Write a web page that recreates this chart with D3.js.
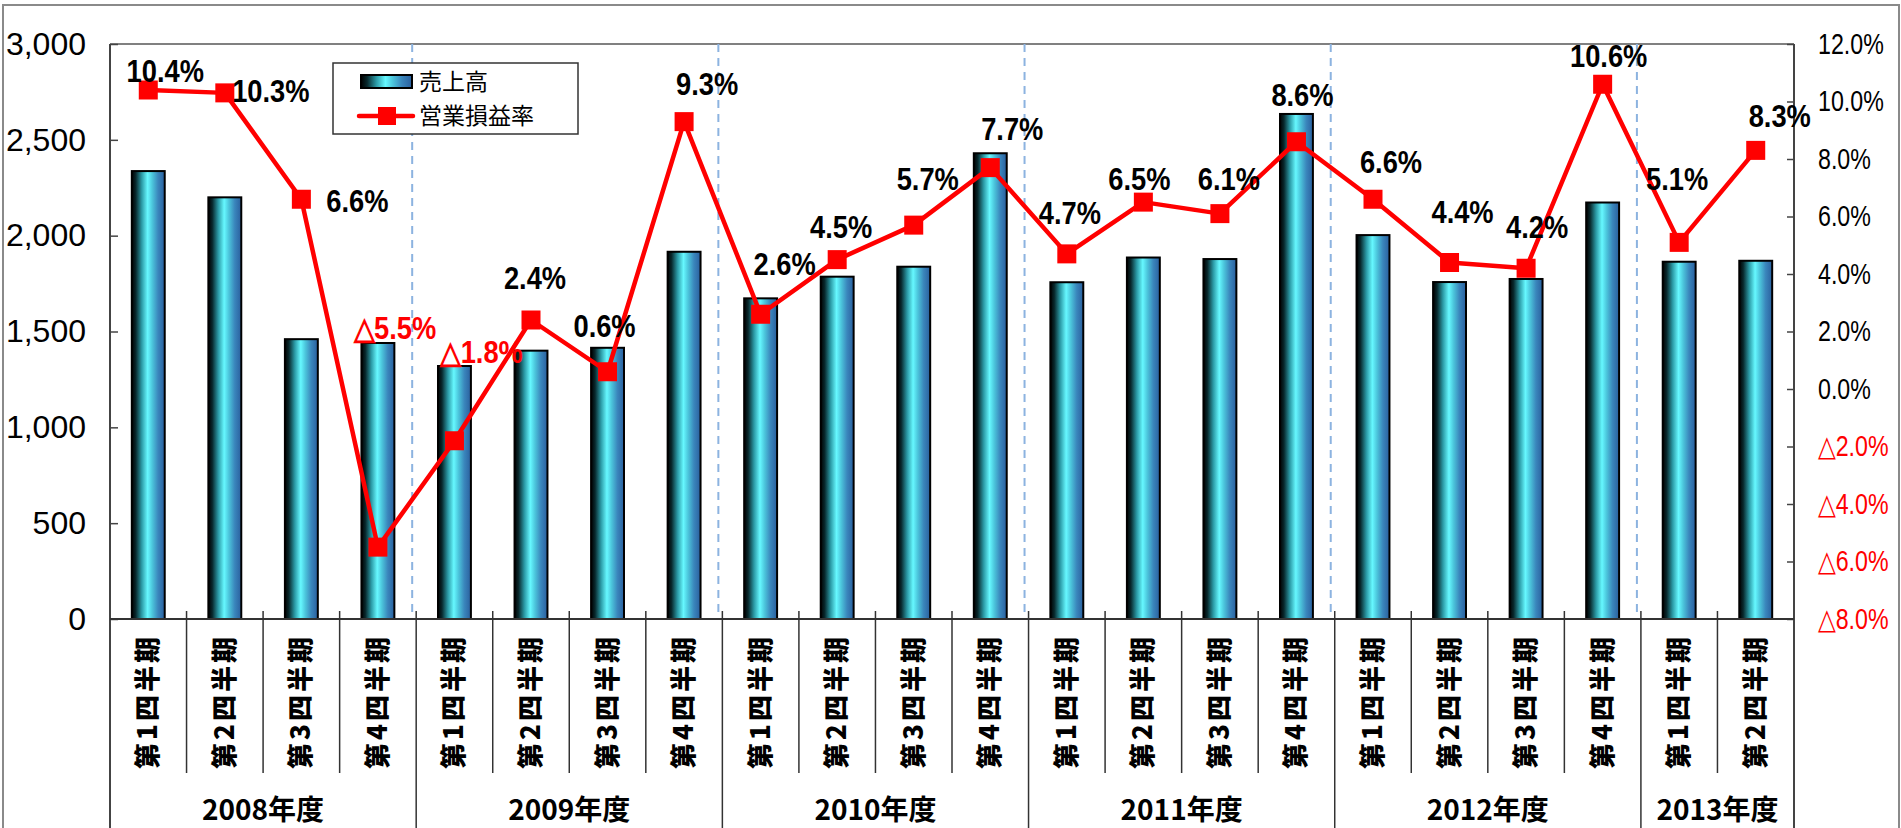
<!DOCTYPE html>
<html>
<head>
<meta charset="utf-8">
<script src="https://cdn.jsdelivr.net/npm/d3@7"></script>
<style>
  body { margin: 0; background: #fff; }
  svg { display: block; }
</style>
</head>
<body>
<svg width="1901" height="828"></svg>
<script>
// data
const quarters = ["第1四半期", "第2四半期", "第3四半期", "第4四半期",
  "第1四半期", "第2四半期", "第3四半期", "第4四半期",
  "第1四半期", "第2四半期", "第3四半期", "第4四半期",
  "第1四半期", "第2四半期", "第3四半期", "第4四半期",
  "第1四半期", "第2四半期", "第3四半期", "第4四半期",
  "第1四半期", "第2四半期"];
const years = ["2008年度", "2009年度", "2010年度", "2011年度", "2012年度", "2013年度"];
const yearSize = [4, 4, 4, 4, 4, 2];
const sales = [2337, 2200, 1460, 1440, 1320, 1400, 1415, 1916, 1673, 1786, 1838, 2430,
  1757, 1886, 1878, 2635, 2003, 1758, 1774, 2173, 1864, 1869];
const margin = [10.4, 10.3, 6.6, -5.5, -1.8, 2.4, 0.6, 9.3, 2.6, 4.5, 5.7, 7.7,
  4.7, 6.5, 6.1, 8.6, 6.6, 4.4, 4.2, 10.6, 5.1, 8.3];
const salesTicks = [0, 500, 1000, 1500, 2000, 2500, 3000];
const marginTicks = [-8, -6, -4, -2, 0, 2, 4, 6, 8, 10, 12];

// where each % label sits relative to its marker (dx, dy of baseline)
const labelShift = [[17, -8], [46, 9], [56, 13], [17, -208], [27, -78], [4, -31], [-3, -35], [23, -27],
  [24, -39], [4, -22], [14, -35], [22, -28], [3, -30], [-4, -12], [9, -24], [6, -36],
  [18, -26], [13, -40], [11, -30], [6, -17], [-2, -52], [24, -23]];

const svg = d3.select("svg");
const numFont = "'Liberation Sans', Arial, sans-serif";
const jpFont = "'Noto Sans CJK JP', sans-serif";

const plotL = 110, plotR = 1794, plotT = 44, plotB = 619;

const x = d3.scaleBand()
  .domain(d3.range(sales.length))
  .range([plotL, plotR])
  .paddingInner(0.57)
  .paddingOuter(0.285);
const step = x.step();
const cx = (i) => x(i) + x.bandwidth() / 2;
const edge = (i) => plotL + i * step;

const yL = d3.scaleLinear().domain([0, 3000]).range([plotB, plotT]);
const yR = d3.scaleLinear().domain([-8, 12]).range([plotB, plotT]);

// bar gradient
const defs = svg.append("defs");
const grad = defs.append("linearGradient").attr("id", "barGrad")
  .attr("x1", "0%").attr("x2", "100%").attr("y1", "0%").attr("y2", "0%");
[[0, "#000000"], [0.12, "#08282c"], [0.3, "#2b9aa6"], [0.48, "#66f8ff"],
 [0.62, "#4cc6dc"], [0.8, "#3a86bc"], [1, "#2a5f9e"]].forEach(([o, c]) =>
  grad.append("stop").attr("offset", o).attr("stop-color", c));

// outer frame
svg.append("rect").attr("x", 3).attr("y", 5).attr("width", 1896).attr("height", 830)
  .attr("fill", "none").attr("stroke", "#8a8a8a").attr("stroke-width", 2);

// plot top border
svg.append("line").attr("x1", plotL).attr("x2", plotR).attr("y1", plotT).attr("y2", plotT)
  .attr("stroke", "#808080").attr("stroke-width", 2);

// year dashed separators
let acc = 0;
const yearStart = yearSize.map((n) => { const s = acc; acc += n; return s; });
svg.append("g").selectAll("line")
  .data(yearStart.slice(1))
  .join("line")
  .attr("x1", (d) => edge(d) - 4).attr("x2", (d) => edge(d) - 4)
  .attr("y1", plotT).attr("y2", plotB)
  .attr("stroke", "#8cb3e0").attr("stroke-width", 2)
  .attr("stroke-dasharray", "8,6");

// bars
svg.append("g").selectAll("rect")
  .data(sales)
  .join("rect")
  .attr("x", (d, i) => x(i))
  .attr("y", (d) => yL(d))
  .attr("width", x.bandwidth())
  .attr("height", (d) => yL(0) - yL(d))
  .attr("fill", "url(#barGrad)")
  .attr("stroke", "#000")
  .attr("stroke-width", 2);

// left axis
const axL = svg.append("g").attr("transform", `translate(${plotL},0)`)
  .call(d3.axisLeft(yL).tickValues(salesTicks).tickFormat(d3.format(",")).tickSizeInner(-8).tickSizeOuter(0).tickPadding(24));
axL.select(".domain").attr("stroke", "#444").attr("stroke-width", 2)
  .attr("d", `M0,${plotT}V828`);
axL.selectAll(".tick line").attr("stroke", "#444").attr("stroke-width", 1.5);
axL.selectAll(".tick text").attr("font-family", numFont).attr("font-size", 32).attr("fill", "#000");

// right axis (labels squeezed a little, the original font is narrow)
const pct = (d) => (d < 0 ? "△" + Math.abs(d).toFixed(1) : d.toFixed(1)) + "%";
const squeeze = 0.8;
const axR = svg.append("g").attr("transform", `translate(${plotR},0)`)
  .call(d3.axisRight(yR).tickValues(marginTicks).tickFormat(pct).tickSizeInner(-7).tickSizeOuter(0).tickPadding(24));
axR.select(".domain").attr("stroke", "#444").attr("stroke-width", 2)
  .attr("d", `M0,${plotT}V828`);
axR.selectAll(".tick line").attr("stroke", "#444").attr("stroke-width", 1.5);
axR.selectAll(".tick text")
  .attr("x", 24 / squeeze)
  .attr("transform", `scale(${squeeze},1)`)
  .attr("font-family", numFont)
  .attr("font-size", 29).attr("fill", (d) => (d < 0 ? "#ff0000" : "#000"));

// bottom axis line and category grid
svg.append("line").attr("x1", plotL).attr("x2", plotR).attr("y1", plotB).attr("y2", plotB)
  .attr("stroke", "#333").attr("stroke-width", 2);
const isYearEdge = (i) => yearStart.includes(i);
svg.append("g").selectAll("line")
  .data(d3.range(1, sales.length))
  .join("line")
  .attr("x1", (i) => edge(i)).attr("x2", (i) => edge(i))
  .attr("y1", plotB - 8)
  .attr("y2", (i) => (isYearEdge(i) ? 828 : 773))
  .attr("stroke", "#333").attr("stroke-width", 1.5);

// quarter labels (rotated)
svg.append("g").selectAll("text")
  .data(quarters)
  .join("text")
  .attr("transform", (d, i) => `translate(${cx(i) + 9},703) rotate(-90)`)
  .attr("text-anchor", "middle")
  .attr("font-family", jpFont)
  .attr("font-weight", 900)
  .attr("font-size", 26)
  .attr("textLength", 132)
  .attr("lengthAdjust", "spacing")
  .text((d) => d);

// year labels
svg.append("g").selectAll("text")
  .data(years)
  .join("text")
  .attr("x", (d, i) => (edge(yearStart[i]) + edge(yearStart[i] + yearSize[i])) / 2)
  .attr("y", 820)
  .attr("text-anchor", "middle")
  .attr("font-family", jpFont)
  .attr("font-weight", 700)
  .attr("font-size", 28)
  .text((d) => d);

// margin line
const line = d3.line().x((d, i) => cx(i)).y((d) => yR(d));
svg.append("path").datum(margin)
  .attr("d", line)
  .attr("fill", "none")
  .attr("stroke", "#ff0000")
  .attr("stroke-width", 4.5)
  .attr("stroke-linejoin", "round");

const mk = 19;
svg.append("g").selectAll("rect")
  .data(margin)
  .join("rect")
  .attr("x", (d, i) => cx(i) - mk / 2)
  .attr("y", (d) => yR(d) - mk / 2)
  .attr("width", mk).attr("height", mk)
  .attr("fill", "#ff0000");

svg.append("g").selectAll("text")
  .data(margin)
  .join("text")
  .attr("transform", (d, i) =>
    `translate(${cx(i) + labelShift[i][0]},${yR(d) + labelShift[i][1]}) scale(0.88,1)`)
  .attr("text-anchor", "middle")
  .attr("font-family", numFont)
  .attr("font-weight", 700)
  .attr("font-size", 31)
  .attr("fill", (d) => (d < 0 ? "#ff0000" : "#000"))
  .text(pct);

// legend
const lg = svg.append("g");
lg.append("rect").attr("x", 333).attr("y", 63).attr("width", 245).attr("height", 71)
  .attr("fill", "#fff").attr("stroke", "#333").attr("stroke-width", 1.5);
lg.append("rect").attr("x", 361).attr("y", 75).attr("width", 51).attr("height", 13)
  .attr("fill", "url(#barGrad)").attr("stroke", "#000").attr("stroke-width", 2);
lg.append("line").attr("x1", 359).attr("x2", 413).attr("y1", 116).attr("y2", 116)
  .attr("stroke", "#ff0000").attr("stroke-width", 4.5).attr("stroke-linecap", "round");
lg.append("rect").attr("x", 378).attr("y", 107).attr("width", 18).attr("height", 18)
  .attr("fill", "#ff0000");
lg.selectAll("text.lab")
  .data(["売上高", "営業損益率"])
  .join("text")
  .attr("class", "lab")
  .attr("x", 419)
  .attr("y", (d, i) => 82 + i * 34)
  .attr("dy", "0.36em")
  .attr("font-family", jpFont)
  .attr("font-size", 23)
  .attr("fill", "#000")
  .text((d) => d);
</script>
</body>
</html>
